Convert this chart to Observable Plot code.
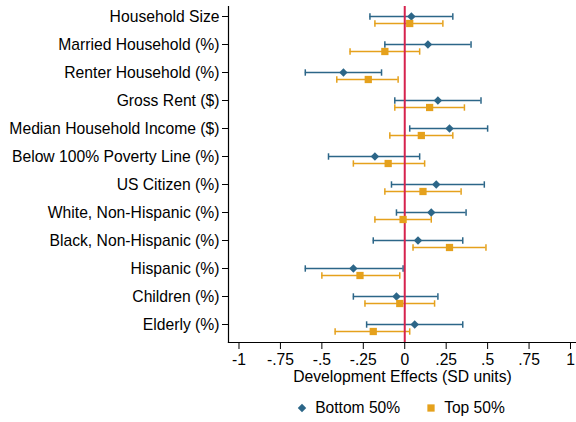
<!DOCTYPE html>
<html>
<head>
<meta charset="utf-8">
<script src="https://cdn.jsdelivr.net/npm/d3@7"></script>
<script src="https://cdn.jsdelivr.net/npm/@observablehq/plot@0.6"></script>
<style>
  html, body { margin: 0; padding: 0; background: #fff; }
  #chart { width: 576px; font-family: "Liberation Sans", Arial, Helvetica, sans-serif; }
  .legend { display: flex; align-items: center; justify-content: center; gap: 26px;
            padding-left: 226px; width: 350px; height: 32px; font-size: 15.6px; color: #000; }
  .legend span.item { display: flex; align-items: center; gap: 8px; }
</style>
</head>
<body>
<div id="chart"></div>
<script>
// Outcome variables, listed top to bottom
const categories = [
  "Household Size",
  "Married Household (%)",
  "Renter Household (%)",
  "Gross Rent ($)",
  "Median Household Income ($)",
  "Below 100% Poverty Line (%)",
  "US Citizen (%)",
  "White, Non-Hispanic (%)",
  "Black, Non-Hispanic (%)",
  "Hispanic (%)",
  "Children (%)",
  "Elderly (%)"
];

// Bottom 50%: point estimates and 95% confidence bounds (SD units)
const bottomEst = [0.04, 0.14, -0.37, 0.20, 0.27, -0.18, 0.19, 0.16, 0.08, -0.31, -0.05, 0.06];
const bottomLo  = [-0.21, -0.12, -0.60, -0.06, 0.03, -0.46, -0.08, -0.05, -0.19, -0.60, -0.31, -0.23];
const bottomHi  = [0.29, 0.40, -0.14, 0.46, 0.50, 0.09, 0.48, 0.37, 0.35, -0.01, 0.20, 0.35];

// Top 50%: point estimates and 95% confidence bounds (SD units)
const topEst = [0.03, -0.12, -0.22, 0.15, 0.10, -0.10, 0.11, -0.01, 0.27, -0.27, -0.03, -0.19];
const topLo  = [-0.18, -0.33, -0.41, -0.06, -0.09, -0.31, -0.12, -0.18, 0.05, -0.50, -0.24, -0.42];
const topHi  = [0.23, 0.09, -0.04, 0.36, 0.29, 0.12, 0.34, 0.16, 0.49, -0.03, 0.18, 0.03];

const xTicks = [-1, -0.75, -0.5, -0.25, 0, 0.25, 0.5, 0.75, 1];

const groups = ["Bottom 50%", "Top 50%"];
const colors = ["#2c6688", "#e5a11c"];
const zeroColor = "#d6234d";

const bottomRows = categories.map((c, i) => ({cat: c, est: bottomEst[i], lo: bottomLo[i], hi: bottomHi[i]}));
const topRows = categories.map((c, i) => ({cat: c, est: topEst[i], lo: topLo[i], hi: topHi[i]}));

// Stata-style tick labels: drop the leading zero (".25", "-.5")
const fmt = v => v === 0 ? "0" : String(v).replace(/^(-?)0\./, "$1.");

// Short vertical stroke used as the cap at each end of a confidence interval
const capSymbol = {
  draw(context) {
    context.moveTo(0, -3.2);
    context.lineTo(0, 3.2);
  }
};

function ciMarks(data, color, dy) {
  return [
    Plot.ruleY(data, {y: "cat", x1: "lo", x2: "hi", stroke: color, strokeWidth: 1.5, dy}),
    Plot.dot(data, {x: "lo", y: "cat", symbol: capSymbol, stroke: color, strokeWidth: 1.5, fill: "none", dy}),
    Plot.dot(data, {x: "hi", y: "cat", symbol: capSymbol, stroke: color, strokeWidth: 1.5, fill: "none", dy})
  ];
}

const chart = Plot.plot({
  width: 576,
  height: 392,
  marginLeft: 228,
  marginRight: 0,
  marginTop: 6,
  marginBottom: 50,
  style: {fontFamily: "Liberation Sans, Arial, Helvetica, sans-serif", fontSize: "15.7px", color: "#000", background: "#fff"},
  x: {domain: [-1.0633, 1.0362]},
  y: {type: "point", domain: categories, padding: 0.5, align: 0.357},
  marks: [
    Plot.axisY({tickSize: 6, tickPadding: 3, label: null, stroke: "#000", fontSize: 15.7}),
    Plot.axisX({ticks: xTicks, tickFormat: fmt, tickSize: 7, tickPadding: 4, fontSize: 15.7,
                label: "Development Effects (SD units)", labelAnchor: "center", labelArrow: "none",
                labelOffset: 39}),
    ...ciMarks(bottomRows, colors[0], 0),
    ...ciMarks(topRows, colors[1], 7),
    Plot.ruleX([0], {stroke: zeroColor, strokeWidth: 2}),
    Plot.dot(bottomRows, {x: "est", y: "cat", symbol: "diamond2", r: 3.8, fill: colors[0], stroke: null}),
    Plot.dot(topRows, {x: "est", y: "cat", symbol: "square", r: 4.1, fill: colors[1], stroke: null, dy: 7}),
    Plot.frame({anchor: "left", stroke: "#000", strokeWidth: 1.2}),
    Plot.frame({anchor: "bottom", stroke: "#000", strokeWidth: 1.2})
  ]
});

const root = document.getElementById("chart");
root.appendChild(chart);

// Legend: one swatch per group, drawn with the same symbols as the dots
const legend = document.createElement("div");
legend.className = "legend";
const symbols = [d3.symbolDiamond2, d3.symbolSquare];
const sizes = [Math.PI * 3.8 * 3.8, Math.PI * 4.1 * 4.1];
groups.forEach((g, i) => {
  const item = document.createElement("span");
  item.className = "item";
  const svg = d3.create("svg").attr("width", 10).attr("height", 10);
  svg.append("path")
    .attr("transform", "translate(5,5)")
    .attr("d", d3.symbol(symbols[i], sizes[i])())
    .attr("fill", colors[i]);
  item.appendChild(svg.node());
  const label = document.createElement("span");
  label.textContent = g;
  item.appendChild(label);
  legend.appendChild(item);
});
root.appendChild(legend);
</script>
</body>
</html>
